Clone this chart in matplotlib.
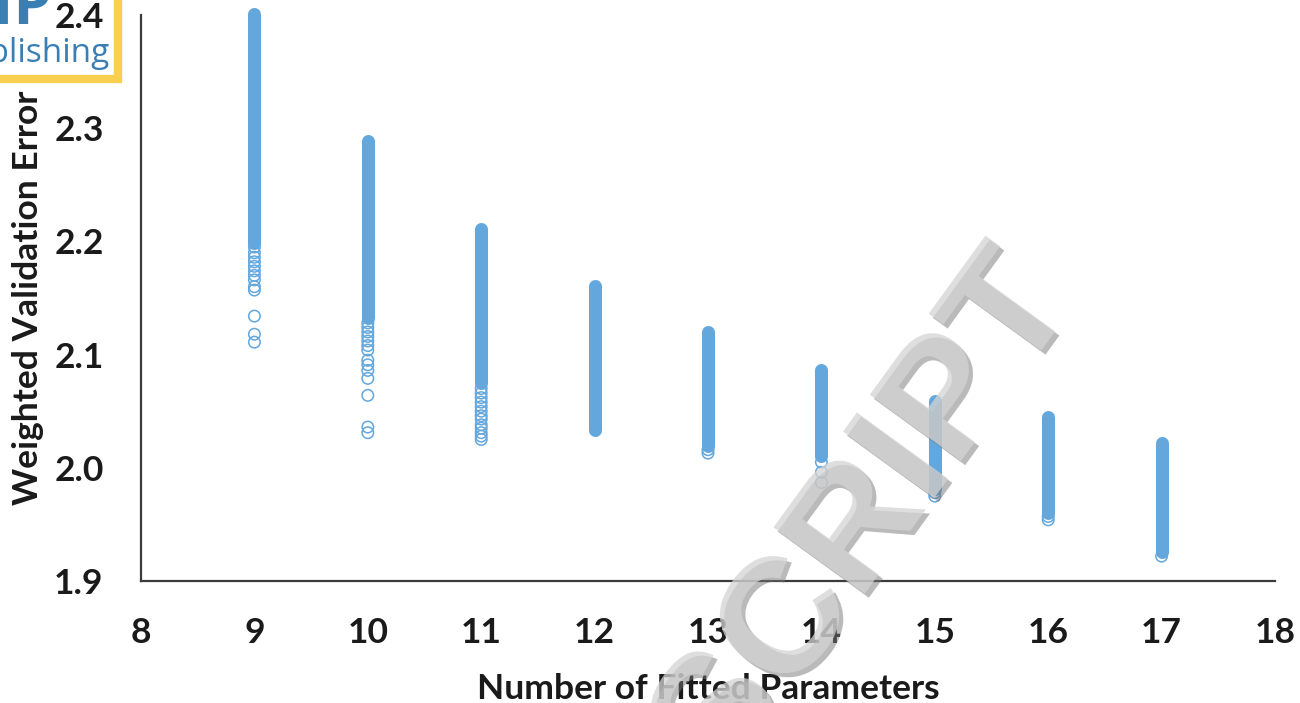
import matplotlib
matplotlib.use("Agg")
import matplotlib.pyplot as plt
import matplotlib.patheffects as pe
from matplotlib.patches import Rectangle

# number of fitted parameters, one column of fits each
params = [9, 10, 11, 12, 13, 14, 15, 16, 17]

# the solid part of every column (so many fits that the circles merge)
dense_lo = [2.199, 2.132, 2.075, 2.033, 2.019, 2.010, 1.981, 1.960, 1.926]
dense_hi = [2.401, 2.289, 2.211, 2.161, 2.120, 2.086, 2.059, 2.045, 2.022]

# the loose circles below the solid part
out_x = [9, 9, 9, 9, 9, 9, 9, 9, 9, 9, 9, 9, 9,
         10, 10, 10, 10, 10, 10, 10, 10, 10, 10, 10, 10, 10, 10,
         11, 11, 11, 11, 11, 11, 11, 11, 11, 11, 11, 11, 11,
         13, 13, 14, 14, 14, 15, 15, 16, 16, 17]
out_y = [2.195, 2.190, 2.186, 2.182, 2.178, 2.174, 2.170, 2.166, 2.160, 2.157,
         2.134, 2.118, 2.111,
         2.128, 2.124, 2.120, 2.116, 2.112, 2.108, 2.104, 2.095, 2.091, 2.086,
         2.079, 2.064, 2.036, 2.031,
         2.070, 2.066, 2.062, 2.058, 2.054, 2.050, 2.046, 2.043, 2.038, 2.035,
         2.031, 2.028, 2.025,
         2.016, 2.013, 2.005, 1.996, 1.987, 1.978, 1.975, 1.957, 1.954, 1.922]

x_ticks = [8, 9, 10, 11, 12, 13, 14, 15, 16, 17, 18]
y_ticks = [1.9, 2.0, 2.1, 2.2, 2.3, 2.4]
y_tick_labels = ["1.9", "2.0", "2.1", "2.2", "2.3", "2.4"]

blue = "#63a7dc"
plt.rcParams["font.family"] = ["Lato", "DejaVu Sans"]

fig = plt.figure(figsize=(13, 7.03), dpi=100)
ax = fig.add_axes([141 / 1300, 122 / 703, 1134 / 1300, 566 / 703])

ax.vlines(params, dense_lo, dense_hi, colors=blue, linewidth=9.4,
          capstyle="round", clip_on=False, zorder=2)
ax.scatter(out_x, out_y, s=68, facecolors="none", edgecolors=blue,
           linewidths=1.1, clip_on=False, zorder=2)

ax.set_xlim(8, 18)
ax.set_ylim(1.9, 2.4)
ax.set_xticks(x_ticks)
ax.set_yticks(y_ticks)
ax.set_yticklabels(y_tick_labels)
ax.tick_params(length=0, labelsize=25.5, labelcolor="#1a1a1a")
ax.tick_params(axis="x", pad=26)
ax.tick_params(axis="y", pad=27)
for lab in ax.get_xticklabels() + ax.get_yticklabels():
    lab.set_fontweight("bold")

for s in ["top", "right"]:
    ax.spines[s].set_visible(False)
for s in ["left", "bottom"]:
    ax.spines[s].set_color("#3b3b3b")
    ax.spines[s].set_linewidth(1.6)

ax.set_xlabel("Number of Fitted Parameters", fontsize=25.5, fontweight="bold",
              color="#1a1a1a", labelpad=17)
ax.set_ylabel("Weighted Validation Error", fontsize=25.5, fontweight="bold",
              color="#1a1a1a", labelpad=7)

# publisher logo, cut off at the top left corner
box = Rectangle((-20 / 1300, 1 - 79 / 703), 138 / 1300, 0.2,
                transform=fig.transFigure, facecolor="white",
                edgecolor="#f8cf4f", linewidth=6, zorder=-1)
fig.patches.append(box)
fig.text(52 / 1300, 1 - 24 / 703, "AIP", fontsize=44, fontweight="bold",
         color="#3a7fb4", ha="right", va="baseline", family="Open Sans")
fig.text(110 / 1300, 1 - 62 / 703, "Publishing", fontsize=24,
         color="#3a7fb4", ha="right", va="baseline", family="Open Sans")

# watermark
fig.text(1078 / 1300, 1 - 300 / 703, "ACCEPTED MANUSCRIPT", fontsize=118,
         fontweight="bold", family="Liberation Sans", color="#d4d4d4",
         alpha=0.75, rotation=54, rotation_mode="anchor",
         ha="right", va="baseline",
         path_effects=[pe.withSimplePatchShadow(offset=(3, -3),
                                                shadow_rgbFace="#777777",
                                                alpha=0.5)])

fig.savefig("out.png", dpi=100)
